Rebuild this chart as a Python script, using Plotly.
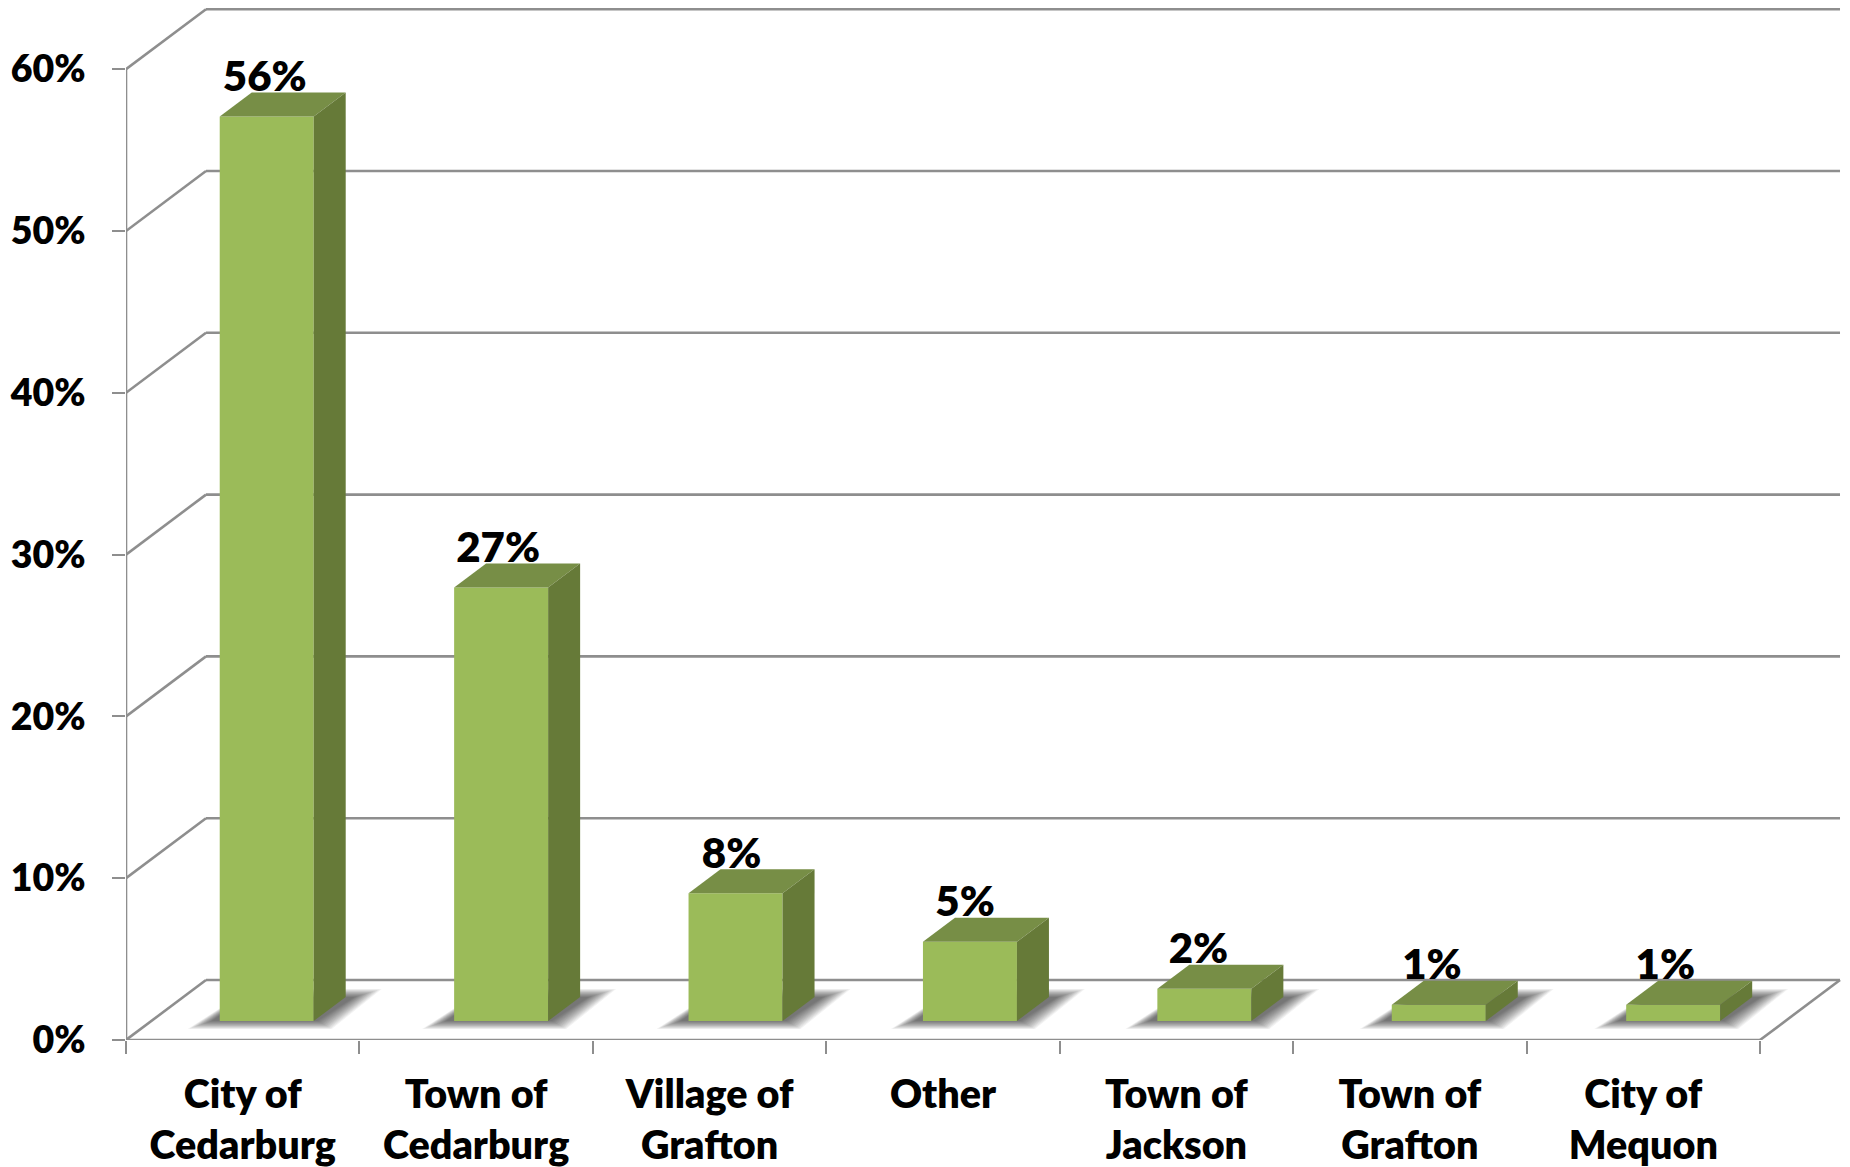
import plotly.graph_objects as go

categories = ["City of<br>Cedarburg", "Town of<br>Cedarburg", "Village of<br>Grafton", "Other",
              "Town of<br>Jackson", "Town of<br>Grafton", "City of<br>Mequon"]
values = [55.9, 26.8, 7.9, 4.9, 2.0, 1.0, 1.0]
y_ticks = [0, 10, 20, 30, 40, 50, 60]

FONT = "Lato"
GRID = "#8e8e8e"
FRONT = "#9bbb59"
SIDE = "#667a38"
TOP = "#778e46"

# pixel geometry -> axis-unit conversion
L, R, T, B = 126, 1846, 3, 1040
PX_X = 233.43      # pixels per category
PX_Y = 16.18       # pixels per percentage point
ux = lambda p: p / PX_X
uy = lambda p: p / PX_Y
wall_dx, wall_dy = ux(80), uy(60)
bar_w = ux(94)
bar_pitch = 1.0042
bar_off_x, bar_base = ux(24), uy(19)
bar_dx, bar_dy = ux(32), uy(24)
n = len(values)
xs = list(range(n))
bar_x = [i * bar_pitch + bar_off_x for i in xs]
x0, x1 = -0.5, n - 0.5

shapes = []
def line(xa, ya, xb, yb):
    shapes.append(dict(type="line", layer="below", xref="x", yref="y", x0=xa, y0=ya, x1=xb, y1=yb,
                       line=dict(color=GRID, width=2.6)))

for t in y_ticks:
    line(x0 + wall_dx, t + wall_dy, x1 + wall_dx, t + wall_dy)
    line(x0, t, x0 + wall_dx, t + wall_dy)
line(x0, 0, x0, y_ticks[-1])
line(x0, 0, x1, 0)
line(x1, 0, x1 + wall_dx, wall_dy)

# soft floor shadows: stacked translucent parallelograms from outer to inner outline
LAYERS = 14
OUTER = [(-32, -8), (112, -8), (162, 32), (30, 32)]
INNER = [(-8, 0), (98, 0), (135, 24), (25, 24)]
for c in bar_x:
    left = c - bar_w / 2
    for k in range(LAYERS):
        f = k / (LAYERS - 1)
        pts = [(left + ux(o[0] + (q[0] - o[0]) * f), bar_base + uy(o[1] + (q[1] - o[1]) * f))
               for o, q in zip(OUTER, INNER)]
        path = "M" + " L".join(f"{a:.4f},{b:.4f}" for a, b in pts) + " Z"
        shapes.append(dict(type="path", layer="below", xref="x", yref="y", path=path,
                           fillcolor="#000000", opacity=0.05, line=dict(width=0)))

fig = go.Figure()
fig.add_trace(go.Bar(x=bar_x, y=values, base=bar_base, width=bar_w,
                     marker=dict(color=FRONT, line=dict(width=0)), hoverinfo="skip"))

for c, v in zip(bar_x, values):
    a = c - bar_w / 2
    b = a + bar_w
    top = v + bar_base
    fig.add_trace(go.Scatter(x=[a, b, b + bar_dx, a + bar_dx, a], y=[top, top, top + bar_dy, top + bar_dy, top],
                             mode="lines", fill="toself", fillcolor=TOP, line=dict(width=0), hoverinfo="skip"))
    fig.add_trace(go.Scatter(x=[b, b + bar_dx, b + bar_dx, b, b],
                             y=[bar_base, bar_base + bar_dy, top + bar_dy, top, bar_base],
                             mode="lines", fill="toself", fillcolor=SIDE, line=dict(width=0), hoverinfo="skip"))

fig.add_trace(go.Scatter(x=[i + bar_off_x - ux(2) for i in xs], y=[v + bar_base + uy(36) for v in values],
                         mode="text", text=[f"{round(v)}%" for v in values], textposition="middle center",
                         textfont=dict(family=FONT, size=42, color="#000000", weight=800),
                         cliponaxis=False, hoverinfo="skip"))

fig.update_layout(
    width=1850, height=1167, showlegend=False, paper_bgcolor="white", plot_bgcolor="white",
    margin=dict(l=L, r=1850 - R, t=T, b=1167 - B, pad=0, autoexpand=False), shapes=shapes,
    xaxis=dict(range=[x0, x0 + (R - L) / PX_X], tickmode="array", tickvals=xs, ticktext=categories,
               ticks="", showgrid=False, zeroline=False, showline=False, tickangle=0, automargin=False,
               tickfont=dict(family=FONT, size=39.5, color="#000000", weight=800),
               ticklabelstandoff=27,
               minor=dict(tickmode="array", tickvals=[x0 + i for i in range(n + 1)], ticks="outside",
                          ticklen=13, tickwidth=2, tickcolor=GRID, showgrid=False)),
    yaxis=dict(range=[0, (B - T) / PX_Y], tickmode="array", tickvals=y_ticks, ticktext=[f"{t}%" for t in y_ticks],
               ticks="outside", ticklen=13, tickwidth=2, tickcolor=GRID, showgrid=False, zeroline=False,
               showline=False, ticklabelstandoff=19, automargin=False,
               tickfont=dict(family=FONT, size=37.5, color="#000000", weight=800)),
)
fig.write_html("out.html", config=dict(displayModeBar=False),
               post_script="document.body.style.margin='0';document.body.style.overflow='hidden';")
